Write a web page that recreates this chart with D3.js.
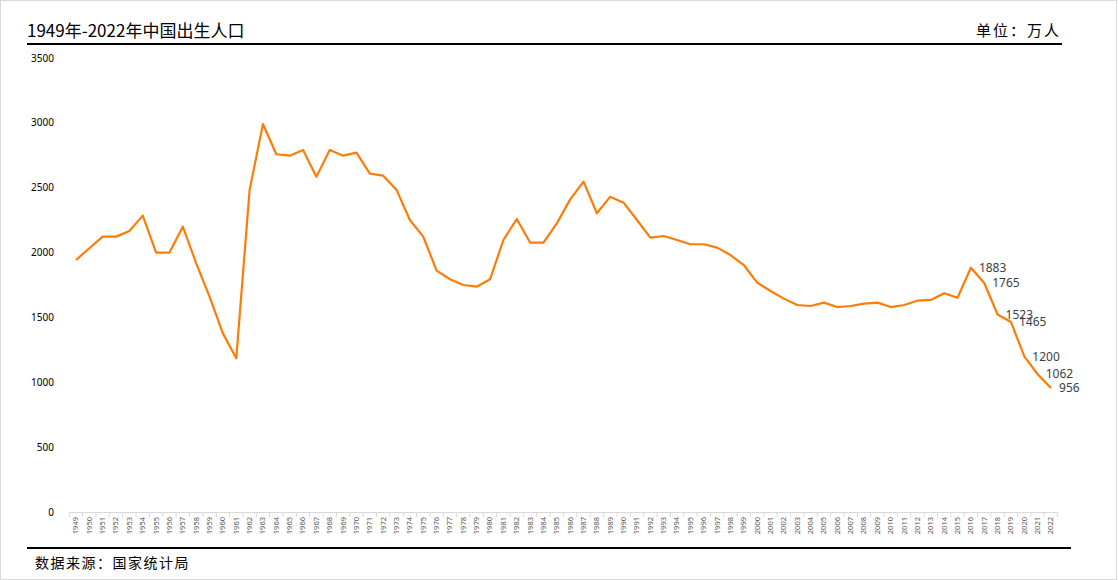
<!DOCTYPE html>
<html><head><meta charset="utf-8">
<script src="https://cdn.jsdelivr.net/npm/d3@7"></script>
<style>
html,body{margin:0;padding:0;background:#fff;}
svg{display:block;}
</style></head>
<body>
<svg id="c" width="1118" height="580"></svg>
<script>
const years = d3.range(1949, 2023).map(String);
const births = [1943,2033,2123,2123,2166,2285,2000,2000,2200,1917,
  1660,1377,1185,2483,2991,2758,2747,2791,2585,2791,
  2747,2770,2608,2593,2483,2251,2123,1861,1794,1750,
  1737,1794,2097,2259,2077,2077,2225,2410,2547,2303,
  2431,2385,2251,2115,2128,2097,2064,2064,2038,1981,
  1904,1768,1704,1645,1596,1588,1614,1580,1588,1606,
  1614,1580,1596,1629,1635,1686,1652,1883,1765,1523,
  1465,1200,1062,956];
const labelledYears = ["2016","2017","2018","2019","2020","2021","2022"];
const yTicks = [0,500,1000,1500,2000,2500,3000,3500];
const title = "1949年-2022年中国出生人口";
const unit = "单位：万人";
const source = "数据来源：国家统计局";

const svg = d3.select("#c");
const W = 1118, H = 580;
svg.append("rect").attr("x",0.5).attr("y",0.5).attr("width",W-2).attr("height",H-1)
  .attr("fill","#fff").attr("stroke","#d9d9d9");

const cjk = "'Noto Sans CJK SC','Noto Sans',sans-serif";
svg.append("text").attr("x",27).attr("y",37).text(title)
  .attr("font-family",cjk).attr("font-size",17).attr("fill","#000");
svg.append("text").attr("x",1061).attr("y",36).attr("text-anchor","end").text(unit)
  .attr("font-family",cjk).attr("font-size",15).attr("fill","#000").attr("letter-spacing",2);
svg.append("line").attr("x1",27).attr("x2",1062).attr("y1",44).attr("y2",44)
  .attr("stroke","#000").attr("stroke-width",2);
svg.append("line").attr("x1",27).attr("x2",1071).attr("y1",548).attr("y2",548)
  .attr("stroke","#000").attr("stroke-width",2);
svg.append("text").attr("x",35).attr("y",568).text(source)
  .attr("font-family",cjk).attr("font-size",14).attr("fill","#000").attr("letter-spacing",1.5);

const x = d3.scaleBand().domain(years).range([69.3, 1057.7]);
const y = d3.scaleLinear().domain([0,3500]).range([512, 58]);

// y labels
const yg = svg.append("g").attr("transform","translate(54,0)");
yg.selectAll("text").data(yTicks).join("text")
  .attr("x",0).attr("y",d=>y(d)).attr("dy","0.35em").attr("text-anchor","end")
  .attr("font-family","'Noto Sans',sans-serif").attr("font-size",10).attr("fill","#000")
  .text(d=>d);

// x axis
const xAxis = d3.axisBottom(x).tickSize(0).tickSizeOuter(0);
const xg = svg.append("g").attr("transform","translate(0,512)").call(xAxis);
xg.select(".domain").attr("stroke","#d9d9d9");
xg.selectAll(".tick text")
  .attr("transform","rotate(-90)")
  .attr("text-anchor","end").attr("x",-5).attr("y",0).attr("dy","0.32em")
  .attr("font-family","'Noto Sans',sans-serif").attr("font-size",7.5).attr("fill","#595959");
// boundary ticks
const bounds = years.map(d=>x(d)).concat([x.range()[1]]);
xg.selectAll(".bt").data(bounds).join("line").attr("class","bt")
  .attr("x1",d=>d).attr("x2",d=>d).attr("y1",0).attr("y2",5).attr("stroke","#d9d9d9");

// line
const data = years.map((yr,i)=>({yr, v:births[i]}));
const line = d3.line().x(d=>x(d.yr)+x.bandwidth()/2).y(d=>y(d.v));
svg.append("path").datum(data).attr("d",line).attr("fill","none")
  .attr("stroke","#fb7d07").attr("stroke-width",2.2).attr("stroke-linejoin","round");

// data labels
svg.selectAll(".dl").data(data.filter(d=>labelledYears.includes(d.yr))).join("text")
  .attr("class","dl")
  .attr("x",d=>x(d.yr)+x.bandwidth()/2+8).attr("y",d=>y(d.v)).attr("dy","0.35em")
  .attr("font-family","'Noto Sans',sans-serif").attr("font-size",12).attr("fill","#404040")
  .text(d=>d.v);
</script>
</body></html>
